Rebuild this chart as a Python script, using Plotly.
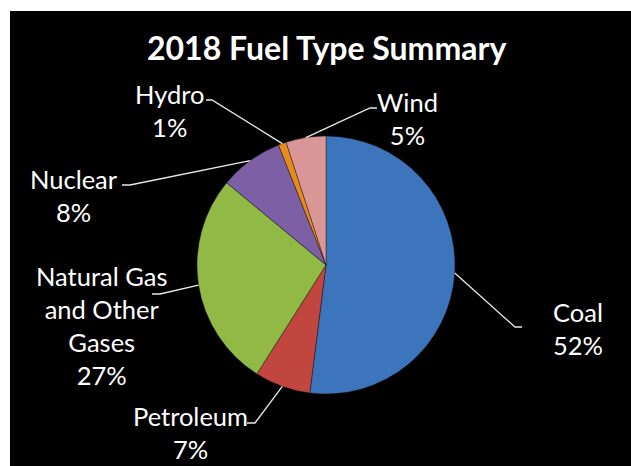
import math
import plotly.graph_objects as go

# ---- data ----
categories = ["Coal", "Petroleum", "Natural Gas and Other Gases", "Nuclear", "Hydro", "Wind"]
label_lines = ["Coal", "Petroleum", "Natural Gas<br>and Other<br>Gases", "Nuclear", "Hydro", "Wind"]
values = [52, 7, 27, 8, 1, 5]
colors = ["#3D75BC", "#C0463F", "#91B946", "#7D5FA5", "#E68C1E", "#DA9696"]
title_text = "2018 Fuel Type Summary"

# ---- layout constants (pixels) ----
W, H = 631, 466
CX, CY, R = 326, 265, 129

def px(x, y):
    return x / W, 1 - y / H

# label block centers and leader line elbow/end points (pixel coords)
label_pos = {
    "Coal": (578, 328),
    "Petroleum": (190, 432),
    "Natural Gas and Other Gases": (102, 325),
    "Nuclear": (74, 195),
    "Hydro": (169, 110),
    "Wind": (407, 118),
}
leader_pts = {
    "Coal": [(515, 327), (522, 327)],
    "Petroleum": [(255, 423), (247, 423)],
    "Natural Gas and Other Gases": [(160, 294), (152, 294)],
    "Nuclear": [(130, 185), (122, 185)],
    "Hydro": [(212, 100), (206, 100)],
    "Wind": [(370, 108), (377, 108)],
}

fig = go.Figure()
fig.add_trace(go.Pie(
    labels=categories,
    values=values,
    sort=False,
    direction="clockwise",
    rotation=0,
    marker=dict(colors=colors, line=dict(color="rgba(0,0,0,0.35)", width=1)),
    textinfo="none",
    hoverinfo="label+percent",
    showlegend=False,
    domain=dict(x=[(CX - R) / W, (CX + R) / W], y=[1 - (CY + R) / H, 1 - (CY - R) / H]),
))

shapes = [dict(type="rect", xref="paper", yref="paper",
               x0=10 / W, y0=0, x1=1, y1=1 - 11 / H,
               fillcolor="black", line=dict(width=0), layer="below")]
annotations = []
total = sum(values)
cum = 0
for cat, lab, v in zip(categories, label_lines, values):
    mid = (cum + v / 2) / total * 2 * math.pi
    cum += v
    sx = CX + R * math.sin(mid)
    sy = CY - R * math.cos(mid)
    pts = [(sx, sy)] + leader_pts[cat]
    path = "M " + " L ".join(f"{px(x, y)[0]},{px(x, y)[1]}" for x, y in pts)
    shapes.append(dict(type="path", xref="paper", yref="paper", path=path,
                       line=dict(color="#E8E8E8", width=1.3)))
    pct = round(v / total * 100)
    lx, ly = label_pos[cat]
    ax, ay = px(lx, ly)
    annotations.append(dict(x=ax, y=ay, xref="paper", yref="paper",
                            text=f"{lab}<br>{pct}%", showarrow=False,
                            xanchor="center", yanchor="middle", align="center",
                            font=dict(family="Lato", size=25.5, color="white")))

tx, ty = px(326, 47)
annotations.append(dict(x=tx, y=ty, xref="paper", yref="paper",
                        text=f"<b>{title_text}</b>", showarrow=False,
                        xanchor="center", yanchor="middle",
                        font=dict(family="Lato", size=32, color="white")))

fig.update_layout(
    width=W, height=H, autosize=False,
    margin=dict(l=0, r=0, t=0, b=0),
    paper_bgcolor="white", plot_bgcolor="white",
    shapes=shapes, annotations=annotations,
)
fig.write_html("out.html", config={"displayModeBar": False},
               post_script="document.body.style.margin='0';document.body.style.padding='0';")
